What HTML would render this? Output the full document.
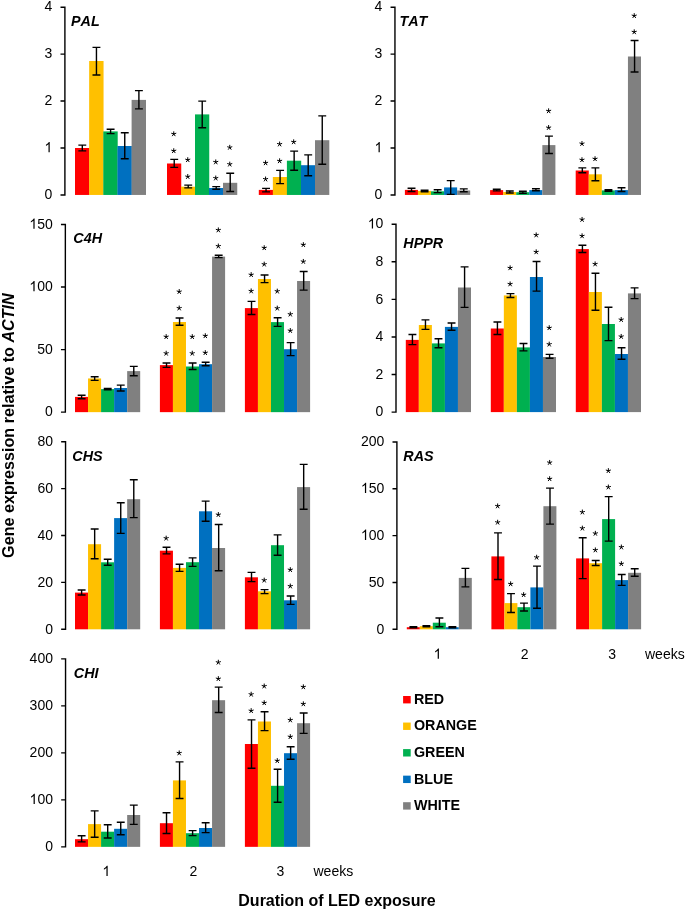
<!DOCTYPE html>
<html><head><meta charset="utf-8"><title>Gene expression</title>
<style>
html,body{margin:0;padding:0;background:#fff;}
body{width:685px;height:912px;overflow:hidden;}
svg{display:block;will-change:transform;}
text{font-family:"Liberation Sans",sans-serif;fill:#000;font-kerning:none;}
.t{font-size:14px;}
.bi{font-size:14.35px;font-weight:bold;font-style:italic;}
.b{font-size:14.3px;font-weight:bold;}
.b16{font-size:16px;font-weight:bold;}
.ast{font-size:14px;font-weight:bold;}
</style></head><body>
<svg width="685" height="912" viewBox="0 0 685 912">
<defs><path id="one" d="M5.216 0H3.985V-8.05Q3.2 -7.2 1.45 -6.3V-7.55Q3.35 -8.5 4.416 -10.3H5.216Z" fill="#000"/><path id="ast" d="M0 0L0 -2.25M0 0L2.14 -0.7M0 0L1.32 1.82M0 0L-1.32 1.82M0 0L-2.14 -0.7" stroke="#000" stroke-width="1.0" stroke-linecap="round" fill="none"/></defs>
<rect width="685" height="912" fill="#fff"/>
<path d="M60.5 7.2H64.9V194.95H60.5M60.5 148.01H64.9M60.5 101.07H64.9M60.5 54.14H64.9" stroke="#000" stroke-width="1.4" fill="none"/>
<text x="44.51" y="199.2" class="t">0</text>
<use href="#one" x="44.51" y="152.26"/>
<text x="44.51" y="105.32" class="t">2</text>
<text x="44.51" y="58.39" class="t">3</text>
<text x="44.51" y="11.45" class="t">4</text>
<text x="71" y="26.2" class="bi">PAL</text>
<rect x="75" y="148" width="14.4" height="46.95" fill="#FF0000"/>
<rect x="89.15" y="61" width="14.4" height="133.95" fill="#FFC000"/>
<rect x="103.3" y="131.4" width="14.4" height="63.55" fill="#00B050"/>
<rect x="117.45" y="146" width="14.4" height="48.95" fill="#0070C0"/>
<rect x="131.6" y="99.9" width="14.4" height="95.05" fill="#808080"/>
<rect x="167" y="163.5" width="14.25" height="31.45" fill="#FF0000"/>
<rect x="181" y="186.7" width="14.25" height="8.25" fill="#FFC000"/>
<rect x="195" y="114.4" width="14.25" height="80.55" fill="#00B050"/>
<rect x="209" y="188" width="14.25" height="6.95" fill="#0070C0"/>
<rect x="223" y="182.8" width="14.25" height="12.15" fill="#808080"/>
<rect x="258.8" y="189.9" width="14.3" height="5.05" fill="#FF0000"/>
<rect x="272.85" y="177" width="14.3" height="17.95" fill="#FFC000"/>
<rect x="286.9" y="160.7" width="14.3" height="34.25" fill="#00B050"/>
<rect x="300.95" y="165.2" width="14.3" height="29.75" fill="#0070C0"/>
<rect x="315" y="140.2" width="14.3" height="54.75" fill="#808080"/>
<path d="M82.3 145.1V150.9M78.35 145.1H86.25M78.35 150.9H86.25" stroke="#000" stroke-width="1.4" fill="none"/>
<path d="M96.45 47.4V75M92.5 47.4H100.4M92.5 75H100.4" stroke="#000" stroke-width="1.4" fill="none"/>
<path d="M110.6 129.3V133.6M106.65 129.3H114.55M106.65 133.6H114.55" stroke="#000" stroke-width="1.4" fill="none"/>
<path d="M124.75 132.8V158.8M120.8 132.8H128.7M120.8 158.8H128.7" stroke="#000" stroke-width="1.4" fill="none"/>
<path d="M138.9 90.6V108.9M134.95 90.6H142.85M134.95 108.9H142.85" stroke="#000" stroke-width="1.4" fill="none"/>
<path d="M174.22 159.4V167.4M170.28 159.4H178.17M170.28 167.4H178.17" stroke="#000" stroke-width="1.4" fill="none"/>
<use href="#ast" x="173.75" y="134"/>
<use href="#ast" x="173.75" y="150.9"/>
<path d="M188.22 185.1V187.9M184.28 185.1H192.17M184.28 187.9H192.17" stroke="#000" stroke-width="1.4" fill="none"/>
<use href="#ast" x="187.75" y="159.9"/>
<use href="#ast" x="187.75" y="176.7"/>
<path d="M202.22 101.1V127.8M198.28 101.1H206.17M198.28 127.8H206.17" stroke="#000" stroke-width="1.4" fill="none"/>
<path d="M216.22 186.6V189.2M212.28 186.6H220.17M212.28 189.2H220.17" stroke="#000" stroke-width="1.4" fill="none"/>
<use href="#ast" x="215.75" y="162.1"/>
<use href="#ast" x="215.75" y="178.2"/>
<path d="M230.22 173.3V191.5M226.28 173.3H234.17M226.28 191.5H234.17" stroke="#000" stroke-width="1.4" fill="none"/>
<use href="#ast" x="229.75" y="147.5"/>
<use href="#ast" x="229.75" y="164.3"/>
<path d="M266.05 188.4V191.9M262.1 188.4H270M262.1 191.9H270" stroke="#000" stroke-width="1.4" fill="none"/>
<use href="#ast" x="265.57" y="163"/>
<use href="#ast" x="265.57" y="179.2"/>
<path d="M280.1 170.4V183.6M276.15 170.4H284.05M276.15 183.6H284.05" stroke="#000" stroke-width="1.4" fill="none"/>
<use href="#ast" x="279.62" y="144.2"/>
<use href="#ast" x="279.62" y="161"/>
<path d="M294.15 151.1V170.2M290.2 151.1H298.1M290.2 170.2H298.1" stroke="#000" stroke-width="1.4" fill="none"/>
<use href="#ast" x="293.68" y="142"/>
<path d="M308.2 154.9V175.7M304.25 154.9H312.15M304.25 175.7H312.15" stroke="#000" stroke-width="1.4" fill="none"/>
<path d="M322.25 115.9V164.3M318.3 115.9H326.2M318.3 164.3H326.2" stroke="#000" stroke-width="1.4" fill="none"/>
<path d="M390.55 7.2H394.95V194.95H390.55M390.55 148.01H394.95M390.55 101.07H394.95M390.55 54.14H394.95" stroke="#000" stroke-width="1.4" fill="none"/>
<text x="374.56" y="199.2" class="t">0</text>
<use href="#one" x="374.56" y="152.26"/>
<text x="374.56" y="105.32" class="t">2</text>
<text x="374.56" y="58.39" class="t">3</text>
<text x="374.56" y="11.45" class="t">4</text>
<text x="399.5" y="26.1" class="bi">TAT</text>
<rect x="404.9" y="189.9" width="13.06" height="5.05" fill="#FF0000"/>
<rect x="417.96" y="190.9" width="13.06" height="4.05" fill="#FFC000"/>
<rect x="431.02" y="191.3" width="13.06" height="3.65" fill="#00B050"/>
<rect x="444.08" y="187.4" width="13.06" height="7.55" fill="#0070C0"/>
<rect x="457.14" y="190.5" width="13.06" height="4.45" fill="#808080"/>
<rect x="490.1" y="190.1" width="13.06" height="4.85" fill="#FF0000"/>
<rect x="503.16" y="192" width="13.06" height="2.95" fill="#FFC000"/>
<rect x="516.22" y="192.2" width="13.06" height="2.75" fill="#00B050"/>
<rect x="529.28" y="190.1" width="13.06" height="4.85" fill="#0070C0"/>
<rect x="542.34" y="145.1" width="13.06" height="49.85" fill="#808080"/>
<rect x="575.7" y="170.5" width="13.06" height="24.45" fill="#FF0000"/>
<rect x="588.76" y="174.3" width="13.06" height="20.65" fill="#FFC000"/>
<rect x="601.82" y="190.4" width="13.06" height="4.55" fill="#00B050"/>
<rect x="614.88" y="190.1" width="13.06" height="4.85" fill="#0070C0"/>
<rect x="627.94" y="56.5" width="13.06" height="138.45" fill="#808080"/>
<path d="M411.53 188.3V191.5M407.58 188.3H415.48M407.58 191.5H415.48" stroke="#000" stroke-width="1.4" fill="none"/>
<path d="M424.59 190.3V191.8M420.64 190.3H428.54M420.64 191.8H428.54" stroke="#000" stroke-width="1.4" fill="none"/>
<path d="M437.65 189.7V192.6M433.7 189.7H441.6M433.7 192.6H441.6" stroke="#000" stroke-width="1.4" fill="none"/>
<path d="M450.71 180.6V194.4M446.76 180.6H454.66M446.76 194.4H454.66" stroke="#000" stroke-width="1.4" fill="none"/>
<path d="M463.77 188.9V191.8M459.82 188.9H467.72M459.82 191.8H467.72" stroke="#000" stroke-width="1.4" fill="none"/>
<path d="M496.73 189.3V190.9M492.78 189.3H500.68M492.78 190.9H500.68" stroke="#000" stroke-width="1.4" fill="none"/>
<path d="M509.79 191V193M505.84 191H513.74M505.84 193H513.74" stroke="#000" stroke-width="1.4" fill="none"/>
<path d="M522.85 191.2V193.2M518.9 191.2H526.8M518.9 193.2H526.8" stroke="#000" stroke-width="1.4" fill="none"/>
<path d="M535.91 188.8V190.7M531.96 188.8H539.86M531.96 190.7H539.86" stroke="#000" stroke-width="1.4" fill="none"/>
<path d="M548.97 136.1V153.5M545.02 136.1H552.92M545.02 153.5H552.92" stroke="#000" stroke-width="1.4" fill="none"/>
<use href="#ast" x="548.62" y="111"/>
<use href="#ast" x="548.62" y="127.7"/>
<path d="M582.33 167.9V172.8M578.38 167.9H586.28M578.38 172.8H586.28" stroke="#000" stroke-width="1.4" fill="none"/>
<use href="#ast" x="581.98" y="143.7"/>
<use href="#ast" x="581.98" y="159.9"/>
<path d="M595.39 167.9V180.7M591.44 167.9H599.34M591.44 180.7H599.34" stroke="#000" stroke-width="1.4" fill="none"/>
<use href="#ast" x="595.04" y="158.9"/>
<path d="M608.45 189.8V191.2M604.5 189.8H612.4M604.5 191.2H612.4" stroke="#000" stroke-width="1.4" fill="none"/>
<path d="M621.51 187.7V191.5M617.56 187.7H625.46M617.56 191.5H625.46" stroke="#000" stroke-width="1.4" fill="none"/>
<path d="M634.57 40.5V72M630.62 40.5H638.52M630.62 72H638.52" stroke="#000" stroke-width="1.4" fill="none"/>
<use href="#ast" x="634.22" y="15.8"/>
<use href="#ast" x="634.22" y="32"/>
<path d="M60.95 224.5H65.35V412.15H60.95M60.95 349.6H65.35M60.95 287.05H65.35" stroke="#000" stroke-width="1.4" fill="none"/>
<text x="44.96" y="416.4" class="t">0</text>
<text x="37.18 44.96" y="353.85" class="t">50</text>
<use href="#one" x="29.39" y="291.3"/>
<text x="37.18 44.96" y="291.3" class="t">00</text>
<use href="#one" x="29.39" y="228.75"/>
<text x="37.18 44.96" y="228.75" class="t">50</text>
<text x="73.3" y="242.9" class="bi">C4H</text>
<rect x="75" y="396.9" width="13.04" height="15.25" fill="#FF0000"/>
<rect x="88.04" y="378.45" width="13.04" height="33.7" fill="#FFC000"/>
<rect x="101.08" y="389.1" width="13.04" height="23.05" fill="#00B050"/>
<rect x="114.12" y="388" width="13.04" height="24.15" fill="#0070C0"/>
<rect x="127.16" y="371.1" width="13.04" height="41.05" fill="#808080"/>
<rect x="159.9" y="365.1" width="13.04" height="47.05" fill="#FF0000"/>
<rect x="172.94" y="322" width="13.04" height="90.15" fill="#FFC000"/>
<rect x="185.98" y="366.5" width="13.04" height="45.65" fill="#00B050"/>
<rect x="199.02" y="364.2" width="13.04" height="47.95" fill="#0070C0"/>
<rect x="212.06" y="256.6" width="13.04" height="155.55" fill="#808080"/>
<rect x="244.9" y="308.1" width="13.04" height="104.05" fill="#FF0000"/>
<rect x="257.94" y="279" width="13.04" height="133.15" fill="#FFC000"/>
<rect x="270.98" y="322.1" width="13.04" height="90.05" fill="#00B050"/>
<rect x="284.02" y="349.2" width="13.04" height="62.95" fill="#0070C0"/>
<rect x="297.06" y="281" width="13.04" height="131.15" fill="#808080"/>
<path d="M81.62 395.3V398.7M77.67 395.3H85.57M77.67 398.7H85.57" stroke="#000" stroke-width="1.4" fill="none"/>
<path d="M94.66 376.7V380.4M90.71 376.7H98.61M90.71 380.4H98.61" stroke="#000" stroke-width="1.4" fill="none"/>
<path d="M107.7 388.5V389.7M103.75 388.5H111.65M103.75 389.7H111.65" stroke="#000" stroke-width="1.4" fill="none"/>
<path d="M120.74 385.1V391M116.79 385.1H124.69M116.79 391H124.69" stroke="#000" stroke-width="1.4" fill="none"/>
<path d="M133.78 366.4V375.8M129.83 366.4H137.73M129.83 375.8H137.73" stroke="#000" stroke-width="1.4" fill="none"/>
<path d="M166.52 363V367.4M162.57 363H170.47M162.57 367.4H170.47" stroke="#000" stroke-width="1.4" fill="none"/>
<use href="#ast" x="166.17" y="336.8"/>
<use href="#ast" x="166.17" y="353.4"/>
<path d="M179.56 318V325.3M175.61 318H183.51M175.61 325.3H183.51" stroke="#000" stroke-width="1.4" fill="none"/>
<use href="#ast" x="179.21" y="291.7"/>
<use href="#ast" x="179.21" y="308.2"/>
<path d="M192.6 363V369.5M188.65 363H196.55M188.65 369.5H196.55" stroke="#000" stroke-width="1.4" fill="none"/>
<use href="#ast" x="192.25" y="336.8"/>
<use href="#ast" x="192.25" y="353.4"/>
<path d="M205.64 362.2V365.7M201.69 362.2H209.59M201.69 365.7H209.59" stroke="#000" stroke-width="1.4" fill="none"/>
<use href="#ast" x="205.29" y="335.9"/>
<use href="#ast" x="205.29" y="352.8"/>
<path d="M218.68 255.3V257.6M214.73 255.3H222.63M214.73 257.6H222.63" stroke="#000" stroke-width="1.4" fill="none"/>
<use href="#ast" x="218.33" y="230.1"/>
<use href="#ast" x="218.33" y="246.2"/>
<path d="M251.52 301.4V314.5M247.57 301.4H255.47M247.57 314.5H255.47" stroke="#000" stroke-width="1.4" fill="none"/>
<use href="#ast" x="251.17" y="274.8"/>
<use href="#ast" x="251.17" y="291.1"/>
<path d="M264.56 275V282.6M260.61 275H268.51M260.61 282.6H268.51" stroke="#000" stroke-width="1.4" fill="none"/>
<use href="#ast" x="264.21" y="247.9"/>
<use href="#ast" x="264.21" y="264.3"/>
<path d="M277.6 317.8V326.4M273.65 317.8H281.55M273.65 326.4H281.55" stroke="#000" stroke-width="1.4" fill="none"/>
<use href="#ast" x="277.25" y="291.3"/>
<use href="#ast" x="277.25" y="308.3"/>
<path d="M290.64 342.6V355.6M286.69 342.6H294.59M286.69 355.6H294.59" stroke="#000" stroke-width="1.4" fill="none"/>
<use href="#ast" x="290.29" y="314.3"/>
<use href="#ast" x="290.29" y="330.7"/>
<path d="M303.68 271.5V290.1M299.73 271.5H307.63M299.73 290.1H307.63" stroke="#000" stroke-width="1.4" fill="none"/>
<use href="#ast" x="303.33" y="244.8"/>
<use href="#ast" x="303.33" y="261.6"/>
<path d="M391.6 224.2H396V412.1H391.6M391.6 374.52H396M391.6 336.94H396M391.6 299.36H396M391.6 261.78H396" stroke="#000" stroke-width="1.4" fill="none"/>
<text x="375.61" y="416.35" class="t">0</text>
<text x="375.61" y="378.77" class="t">2</text>
<text x="375.61" y="341.19" class="t">4</text>
<text x="375.61" y="303.61" class="t">6</text>
<text x="375.61" y="266.03" class="t">8</text>
<use href="#one" x="367.83" y="228.45"/>
<text x="375.61" y="228.45" class="t">0</text>
<text x="403.3" y="248.2" class="bi">HPPR</text>
<rect x="405.8" y="339.9" width="13.04" height="72.2" fill="#FF0000"/>
<rect x="418.84" y="325" width="13.04" height="87.1" fill="#FFC000"/>
<rect x="431.88" y="343.4" width="13.04" height="68.7" fill="#00B050"/>
<rect x="444.92" y="326.9" width="13.04" height="85.2" fill="#0070C0"/>
<rect x="457.96" y="287.5" width="13.04" height="124.6" fill="#808080"/>
<rect x="490.8" y="328.5" width="13.04" height="83.6" fill="#FF0000"/>
<rect x="503.84" y="295.4" width="13.04" height="116.7" fill="#FFC000"/>
<rect x="516.88" y="347.4" width="13.04" height="64.7" fill="#00B050"/>
<rect x="529.92" y="277" width="13.04" height="135.1" fill="#0070C0"/>
<rect x="542.96" y="357" width="13.04" height="55.1" fill="#808080"/>
<rect x="575.8" y="249.1" width="13.04" height="163" fill="#FF0000"/>
<rect x="588.84" y="292" width="13.04" height="120.1" fill="#FFC000"/>
<rect x="601.88" y="324" width="13.04" height="88.1" fill="#00B050"/>
<rect x="614.92" y="354" width="13.04" height="58.1" fill="#0070C0"/>
<rect x="627.96" y="293.4" width="13.04" height="118.7" fill="#808080"/>
<path d="M412.42 334.5V344.6M408.47 334.5H416.37M408.47 344.6H416.37" stroke="#000" stroke-width="1.4" fill="none"/>
<path d="M425.46 319.9V329.4M421.51 319.9H429.41M421.51 329.4H429.41" stroke="#000" stroke-width="1.4" fill="none"/>
<path d="M438.5 338.7V347.7M434.55 338.7H442.45M434.55 347.7H442.45" stroke="#000" stroke-width="1.4" fill="none"/>
<path d="M451.54 323V330.2M447.59 323H455.49M447.59 330.2H455.49" stroke="#000" stroke-width="1.4" fill="none"/>
<path d="M464.58 266.9V307.4M460.63 266.9H468.53M460.63 307.4H468.53" stroke="#000" stroke-width="1.4" fill="none"/>
<path d="M497.42 322V334.5M493.47 322H501.37M493.47 334.5H501.37" stroke="#000" stroke-width="1.4" fill="none"/>
<path d="M510.46 293.6V297.5M506.51 293.6H514.41M506.51 297.5H514.41" stroke="#000" stroke-width="1.4" fill="none"/>
<use href="#ast" x="510.11" y="268"/>
<use href="#ast" x="510.11" y="284.1"/>
<path d="M523.5 343.5V350.9M519.55 343.5H527.45M519.55 350.9H527.45" stroke="#000" stroke-width="1.4" fill="none"/>
<path d="M536.54 261.5V291.1M532.59 261.5H540.49M532.59 291.1H540.49" stroke="#000" stroke-width="1.4" fill="none"/>
<use href="#ast" x="536.19" y="235.1"/>
<use href="#ast" x="536.19" y="252"/>
<path d="M549.58 354.4V358.2M545.63 354.4H553.53M545.63 358.2H553.53" stroke="#000" stroke-width="1.4" fill="none"/>
<use href="#ast" x="549.23" y="327.9"/>
<use href="#ast" x="549.23" y="344.3"/>
<path d="M582.42 245.3V252.5M578.47 245.3H586.37M578.47 252.5H586.37" stroke="#000" stroke-width="1.4" fill="none"/>
<use href="#ast" x="582.07" y="219.6"/>
<use href="#ast" x="582.07" y="236"/>
<path d="M595.46 273.3V310.2M591.51 273.3H599.41M591.51 310.2H599.41" stroke="#000" stroke-width="1.4" fill="none"/>
<use href="#ast" x="595.11" y="264.1"/>
<path d="M608.5 307.3V340.6M604.55 307.3H612.45M604.55 340.6H612.45" stroke="#000" stroke-width="1.4" fill="none"/>
<path d="M621.54 347.7V359.3M617.59 347.7H625.49M617.59 359.3H625.49" stroke="#000" stroke-width="1.4" fill="none"/>
<use href="#ast" x="621.19" y="319.7"/>
<use href="#ast" x="621.19" y="336.6"/>
<path d="M634.58 287.9V298.6M630.63 287.9H638.53M630.63 298.6H638.53" stroke="#000" stroke-width="1.4" fill="none"/>
<path d="M61.15 441.7H65.55V629.3H61.15M61.15 582.4H65.55M61.15 535.5H65.55M61.15 488.6H65.55" stroke="#000" stroke-width="1.4" fill="none"/>
<text x="45.16" y="633.55" class="t">0</text>
<text x="37.38 45.16" y="586.65" class="t">20</text>
<text x="37.38 45.16" y="539.75" class="t">40</text>
<text x="37.38 45.16" y="492.85" class="t">60</text>
<text x="37.38 45.16" y="445.95" class="t">80</text>
<text x="72.3" y="460.75" class="bi">CHS</text>
<rect x="75" y="592.6" width="13.04" height="36.7" fill="#FF0000"/>
<rect x="88.04" y="544.2" width="13.04" height="85.1" fill="#FFC000"/>
<rect x="101.08" y="562.3" width="13.04" height="67" fill="#00B050"/>
<rect x="114.12" y="518.1" width="13.04" height="111.2" fill="#0070C0"/>
<rect x="127.16" y="499.2" width="13.04" height="130.1" fill="#808080"/>
<rect x="159.9" y="550.7" width="13.04" height="78.6" fill="#FF0000"/>
<rect x="172.94" y="567.9" width="13.04" height="61.4" fill="#FFC000"/>
<rect x="185.98" y="562.2" width="13.04" height="67.1" fill="#00B050"/>
<rect x="199.02" y="511.3" width="13.04" height="118" fill="#0070C0"/>
<rect x="212.06" y="548" width="13.04" height="81.3" fill="#808080"/>
<rect x="244.9" y="577.3" width="13.04" height="52" fill="#FF0000"/>
<rect x="257.94" y="591.3" width="13.04" height="38" fill="#FFC000"/>
<rect x="270.98" y="545.2" width="13.04" height="84.1" fill="#00B050"/>
<rect x="284.02" y="600.3" width="13.04" height="29" fill="#0070C0"/>
<rect x="297.06" y="487.1" width="13.04" height="142.2" fill="#808080"/>
<path d="M81.62 590V595M77.67 590H85.57M77.67 595H85.57" stroke="#000" stroke-width="1.4" fill="none"/>
<path d="M94.66 529V558.8M90.71 529H98.61M90.71 558.8H98.61" stroke="#000" stroke-width="1.4" fill="none"/>
<path d="M107.7 559.3V565.2M103.75 559.3H111.65M103.75 565.2H111.65" stroke="#000" stroke-width="1.4" fill="none"/>
<path d="M120.74 502.7V533.4M116.79 502.7H124.69M116.79 533.4H124.69" stroke="#000" stroke-width="1.4" fill="none"/>
<path d="M133.78 479.7V517.6M129.83 479.7H137.73M129.83 517.6H137.73" stroke="#000" stroke-width="1.4" fill="none"/>
<path d="M166.52 547.2V553.9M162.57 547.2H170.47M162.57 553.9H170.47" stroke="#000" stroke-width="1.4" fill="none"/>
<use href="#ast" x="166.17" y="538.3"/>
<path d="M179.56 564.2V571.4M175.61 564.2H183.51M175.61 571.4H183.51" stroke="#000" stroke-width="1.4" fill="none"/>
<path d="M192.6 557.9V566.4M188.65 557.9H196.55M188.65 566.4H196.55" stroke="#000" stroke-width="1.4" fill="none"/>
<path d="M205.64 501.1V521.3M201.69 501.1H209.59M201.69 521.3H209.59" stroke="#000" stroke-width="1.4" fill="none"/>
<path d="M218.68 524.5V570.8M214.73 524.5H222.63M214.73 570.8H222.63" stroke="#000" stroke-width="1.4" fill="none"/>
<use href="#ast" x="218.33" y="514.7"/>
<path d="M251.52 572.4V581.6M247.57 572.4H255.47M247.57 581.6H255.47" stroke="#000" stroke-width="1.4" fill="none"/>
<path d="M264.56 589.6V593.6M260.61 589.6H268.51M260.61 593.6H268.51" stroke="#000" stroke-width="1.4" fill="none"/>
<use href="#ast" x="264.21" y="580.3"/>
<path d="M277.6 534.9V555.3M273.65 534.9H281.55M273.65 555.3H281.55" stroke="#000" stroke-width="1.4" fill="none"/>
<path d="M290.64 596V604.4M286.69 596H294.59M286.69 604.4H294.59" stroke="#000" stroke-width="1.4" fill="none"/>
<use href="#ast" x="290.29" y="569.8"/>
<use href="#ast" x="290.29" y="586.2"/>
<path d="M303.68 464.4V509.2M299.73 464.4H307.63M299.73 509.2H307.63" stroke="#000" stroke-width="1.4" fill="none"/>
<path d="M392.5 442H396.9V629.3H392.5M392.5 582.47H396.9M392.5 535.65H396.9M392.5 488.82H396.9" stroke="#000" stroke-width="1.4" fill="none"/>
<text x="376.51" y="633.55" class="t">0</text>
<text x="368.73 376.51" y="586.72" class="t">50</text>
<use href="#one" x="360.94" y="539.9"/>
<text x="368.73 376.51" y="539.9" class="t">00</text>
<use href="#one" x="360.94" y="493.07"/>
<text x="368.73 376.51" y="493.07" class="t">50</text>
<text x="360.94 368.73 376.51" y="446.25" class="t">200</text>
<text x="403.3" y="460.75" class="bi">RAS</text>
<rect x="406.8" y="627.2" width="13" height="2.1" fill="#FF0000"/>
<rect x="419.8" y="626.2" width="13" height="3.1" fill="#FFC000"/>
<rect x="432.8" y="622.7" width="13" height="6.6" fill="#00B050"/>
<rect x="445.8" y="627.2" width="13" height="2.1" fill="#0070C0"/>
<rect x="458.8" y="577.9" width="13" height="51.4" fill="#808080"/>
<rect x="491.4" y="556.4" width="13" height="72.9" fill="#FF0000"/>
<rect x="504.4" y="603.1" width="13" height="26.2" fill="#FFC000"/>
<rect x="517.4" y="607.2" width="13" height="22.1" fill="#00B050"/>
<rect x="530.4" y="587.4" width="13" height="41.9" fill="#0070C0"/>
<rect x="543.4" y="506.2" width="13" height="123.1" fill="#808080"/>
<rect x="576.1" y="558.4" width="13" height="70.9" fill="#FF0000"/>
<rect x="589.1" y="563.2" width="13" height="66.1" fill="#FFC000"/>
<rect x="602.1" y="519.1" width="13" height="110.2" fill="#00B050"/>
<rect x="615.1" y="580.1" width="13" height="49.2" fill="#0070C0"/>
<rect x="628.1" y="572.8" width="13" height="56.5" fill="#808080"/>
<path d="M413.4 626.6V627.8M409.45 626.6H417.35M409.45 627.8H417.35" stroke="#000" stroke-width="1.4" fill="none"/>
<path d="M426.4 625.6V626.8M422.45 625.6H430.35M422.45 626.8H430.35" stroke="#000" stroke-width="1.4" fill="none"/>
<path d="M439.4 618V626.8M435.45 618H443.35M435.45 626.8H443.35" stroke="#000" stroke-width="1.4" fill="none"/>
<path d="M452.4 626.6V627.8M448.45 626.6H456.35M448.45 627.8H456.35" stroke="#000" stroke-width="1.4" fill="none"/>
<path d="M465.4 568.4V586.9M461.45 568.4H469.35M461.45 586.9H469.35" stroke="#000" stroke-width="1.4" fill="none"/>
<path d="M498 532.9V579.5M494.05 532.9H501.95M494.05 579.5H501.95" stroke="#000" stroke-width="1.4" fill="none"/>
<use href="#ast" x="497.65" y="506.1"/>
<use href="#ast" x="497.65" y="522.4"/>
<path d="M511 593.6V612.5M507.05 593.6H514.95M507.05 612.5H514.95" stroke="#000" stroke-width="1.4" fill="none"/>
<use href="#ast" x="510.65" y="584"/>
<path d="M524 603.1V611M520.05 603.1H527.95M520.05 611H527.95" stroke="#000" stroke-width="1.4" fill="none"/>
<use href="#ast" x="523.65" y="594.8"/>
<path d="M537 566.1V608.2M533.05 566.1H540.95M533.05 608.2H540.95" stroke="#000" stroke-width="1.4" fill="none"/>
<use href="#ast" x="536.65" y="557.4"/>
<path d="M550 488.1V524.1M546.05 488.1H553.95M546.05 524.1H553.95" stroke="#000" stroke-width="1.4" fill="none"/>
<use href="#ast" x="549.65" y="462.6"/>
<use href="#ast" x="549.65" y="478.9"/>
<path d="M582.7 537.8V578.6M578.75 537.8H586.65M578.75 578.6H586.65" stroke="#000" stroke-width="1.4" fill="none"/>
<use href="#ast" x="582.35" y="512.2"/>
<use href="#ast" x="582.35" y="528.3"/>
<path d="M595.7 560.5V565.5M591.75 560.5H599.65M591.75 565.5H599.65" stroke="#000" stroke-width="1.4" fill="none"/>
<use href="#ast" x="595.35" y="533.5"/>
<use href="#ast" x="595.35" y="550.1"/>
<path d="M608.7 496.6V541.1M604.75 496.6H612.65M604.75 541.1H612.65" stroke="#000" stroke-width="1.4" fill="none"/>
<use href="#ast" x="608.35" y="470.8"/>
<use href="#ast" x="608.35" y="487.2"/>
<path d="M621.7 574.5V585.4M617.75 574.5H625.65M617.75 585.4H625.65" stroke="#000" stroke-width="1.4" fill="none"/>
<use href="#ast" x="621.35" y="547.2"/>
<use href="#ast" x="621.35" y="563.8"/>
<path d="M634.7 568.7V576.3M630.75 568.7H638.65M630.75 576.3H638.65" stroke="#000" stroke-width="1.4" fill="none"/>
<path d="M61.15 658.9H65.55V846.85H61.15M61.15 799.86H65.55M61.15 752.88H65.55M61.15 705.89H65.55" stroke="#000" stroke-width="1.4" fill="none"/>
<text x="45.16" y="851.1" class="t">0</text>
<use href="#one" x="29.59" y="804.11"/>
<text x="37.38 45.16" y="804.11" class="t">00</text>
<text x="29.59 37.38 45.16" y="757.12" class="t">200</text>
<text x="29.59 37.38 45.16" y="710.14" class="t">300</text>
<text x="29.59 37.38 45.16" y="663.15" class="t">400</text>
<text x="73.8" y="677.75" class="bi">CHI</text>
<rect x="75" y="839.2" width="13.04" height="7.65" fill="#FF0000"/>
<rect x="88.04" y="824.1" width="13.04" height="22.75" fill="#FFC000"/>
<rect x="101.08" y="831.7" width="13.04" height="15.15" fill="#00B050"/>
<rect x="114.12" y="828.8" width="13.04" height="18.05" fill="#0070C0"/>
<rect x="127.16" y="815" width="13.04" height="31.85" fill="#808080"/>
<rect x="159.9" y="823.2" width="13.04" height="23.65" fill="#FF0000"/>
<rect x="172.94" y="780.4" width="13.04" height="66.45" fill="#FFC000"/>
<rect x="185.98" y="833.2" width="13.04" height="13.65" fill="#00B050"/>
<rect x="199.02" y="828" width="13.04" height="18.85" fill="#0070C0"/>
<rect x="212.06" y="700.2" width="13.04" height="146.65" fill="#808080"/>
<rect x="244.9" y="744" width="13.04" height="102.85" fill="#FF0000"/>
<rect x="257.94" y="721.5" width="13.04" height="125.35" fill="#FFC000"/>
<rect x="270.98" y="785.8" width="13.04" height="61.05" fill="#00B050"/>
<rect x="284.02" y="753.2" width="13.04" height="93.65" fill="#0070C0"/>
<rect x="297.06" y="723.2" width="13.04" height="123.65" fill="#808080"/>
<path d="M81.62 835.7V841.9M77.67 835.7H85.57M77.67 841.9H85.57" stroke="#000" stroke-width="1.4" fill="none"/>
<path d="M94.66 810.9V837.2M90.71 810.9H98.61M90.71 837.2H98.61" stroke="#000" stroke-width="1.4" fill="none"/>
<path d="M107.7 824.7V838M103.75 824.7H111.65M103.75 838H111.65" stroke="#000" stroke-width="1.4" fill="none"/>
<path d="M120.74 822.3V834.7M116.79 822.3H124.69M116.79 834.7H124.69" stroke="#000" stroke-width="1.4" fill="none"/>
<path d="M133.78 805.1V824.4M129.83 805.1H137.73M129.83 824.4H137.73" stroke="#000" stroke-width="1.4" fill="none"/>
<path d="M166.52 812.7V833.5M162.57 812.7H170.47M162.57 833.5H170.47" stroke="#000" stroke-width="1.4" fill="none"/>
<path d="M179.56 761.9V798.5M175.61 761.9H183.51M175.61 798.5H183.51" stroke="#000" stroke-width="1.4" fill="none"/>
<use href="#ast" x="179.21" y="753.1"/>
<path d="M192.6 830.6V835.6M188.65 830.6H196.55M188.65 835.6H196.55" stroke="#000" stroke-width="1.4" fill="none"/>
<path d="M205.64 822.8V832.6M201.69 822.8H209.59M201.69 832.6H209.59" stroke="#000" stroke-width="1.4" fill="none"/>
<path d="M218.68 687.1V712.5M214.73 687.1H222.63M214.73 712.5H222.63" stroke="#000" stroke-width="1.4" fill="none"/>
<use href="#ast" x="218.33" y="662.4"/>
<use href="#ast" x="218.33" y="678.8"/>
<path d="M251.52 719.9V768.3M247.57 719.9H255.47M247.57 768.3H255.47" stroke="#000" stroke-width="1.4" fill="none"/>
<use href="#ast" x="251.17" y="694.4"/>
<use href="#ast" x="251.17" y="710.8"/>
<path d="M264.56 711.8V730.6M260.61 711.8H268.51M260.61 730.6H268.51" stroke="#000" stroke-width="1.4" fill="none"/>
<use href="#ast" x="264.21" y="686.2"/>
<use href="#ast" x="264.21" y="702.9"/>
<path d="M277.6 769.2V802.2M273.65 769.2H281.55M273.65 802.2H281.55" stroke="#000" stroke-width="1.4" fill="none"/>
<use href="#ast" x="277.25" y="760.8"/>
<path d="M290.64 746.8V759.3M286.69 746.8H294.59M286.69 759.3H294.59" stroke="#000" stroke-width="1.4" fill="none"/>
<use href="#ast" x="290.29" y="720.1"/>
<use href="#ast" x="290.29" y="736.8"/>
<path d="M303.68 713V733.4M299.73 713H307.63M299.73 733.4H307.63" stroke="#000" stroke-width="1.4" fill="none"/>
<use href="#ast" x="303.33" y="687"/>
<use href="#ast" x="303.33" y="704"/>
<use href="#one" x="102.45" y="876"/>
<text x="189.6" y="876" class="t">2</text>
<text x="276.6" y="876" class="t">3</text>
<text x="313.5" y="876" class="t">weeks</text>
<use href="#one" x="433.7" y="658.7"/>
<text x="520.8" y="658.7" class="t">2</text>
<text x="608.15" y="658.7" class="t">3</text>
<text x="645" y="658.7" class="t">weeks</text>
<rect x="403.1" y="696" width="7.6" height="7.4" fill="#FF0000"/>
<text x="414" y="703.9" class="b">RED</text>
<rect x="403.1" y="722.55" width="7.6" height="7.4" fill="#FFC000"/>
<text x="414" y="730.45" class="b">ORANGE</text>
<rect x="403.1" y="749.1" width="7.6" height="7.4" fill="#00B050"/>
<text x="414" y="757" class="b">GREEN</text>
<rect x="403.1" y="775.65" width="7.6" height="7.4" fill="#0070C0"/>
<text x="414" y="783.55" class="b">BLUE</text>
<rect x="403.1" y="802.2" width="7.6" height="7.4" fill="#808080"/>
<text x="414" y="810.1" class="b">WHITE</text>
<text x="238.3" y="906" class="b16">Duration of LED exposure</text>
<text transform="translate(14.2 557.9) rotate(-90)" x="0" y="0" class="b16" style="font-size:16.15px">Gene expression relative to <tspan font-style="italic">ACTIN</tspan></text>
</svg>
</body></html>
